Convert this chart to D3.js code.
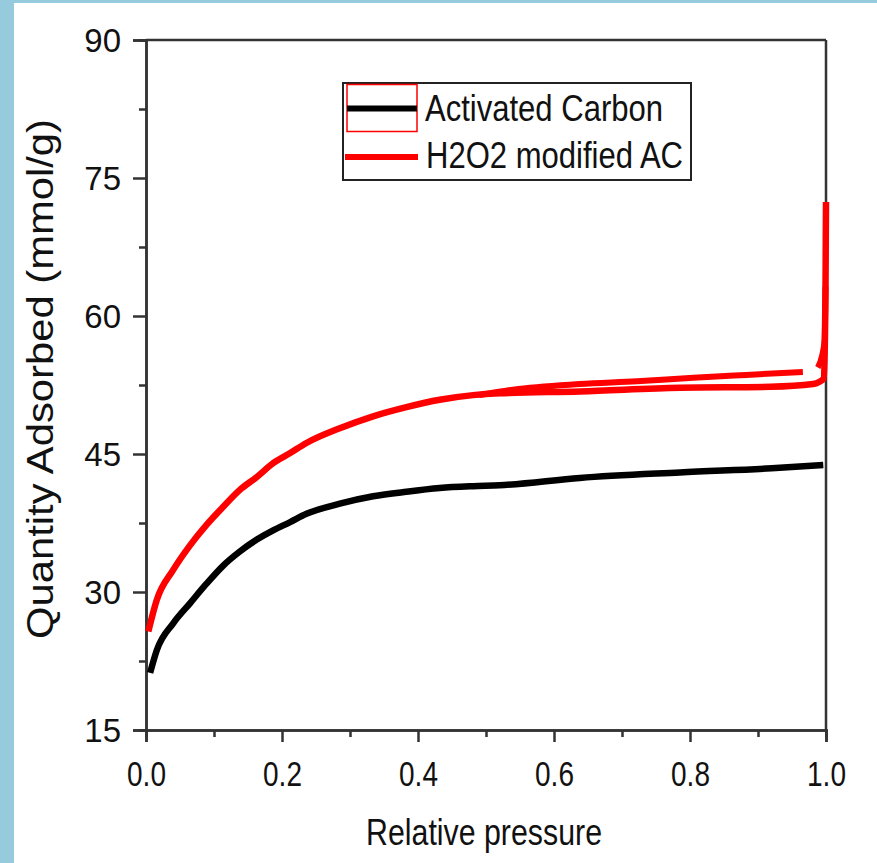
<!DOCTYPE html>
<html>
<head>
<meta charset="utf-8">
<script src="https://cdn.jsdelivr.net/npm/d3@7"></script>
<style>
  html, body { margin: 0; padding: 0; background: #ffffff; }
  svg { display: block; }
  text { font-family: "Liberation Sans", Arial, sans-serif; fill: #111; }
</style>
</head>
<body>
<svg id="chart" width="877" height="863"></svg>
<script>
// ---- data ----
const acPressure = [0.006, 0.016, 0.040, 0.065, 0.089, 0.114, 0.138, 0.163, 0.187, 0.212, 0.236, 0.285, 0.334, 0.383, 0.432, 0.481, 0.52, 0.638, 0.785, 0.932, 0.996];
const acQuantity = [21.2, 23.7, 26.6, 28.8, 30.9, 32.9, 34.4, 35.7, 36.7, 37.6, 38.5, 39.6, 40.4, 40.9, 41.3, 41.5, 41.6, 42.4, 43.0, 43.5, 43.8];

const h2AdsPressure = [0.0034, 0.0157, 0.040, 0.065, 0.089, 0.114, 0.138, 0.163, 0.187, 0.212, 0.236, 0.285, 0.334, 0.383, 0.432, 0.481, 0.52, 0.638, 0.785, 0.918, 0.981, 0.997, 0.9985, 0.9993, 1.0];
const h2AdsQuantity = [25.7, 29.1, 32.4, 35.1, 37.3, 39.3, 41.1, 42.5, 44.0, 45.1, 46.2, 47.8, 49.1, 50.1, 50.9, 51.4, 51.6, 51.8, 52.2, 52.3, 52.6, 53.2, 58.0, 63.2, 72.4];

// desorption branch (null = visible break in the trace)
const h2DesPressure = [0.9993, 0.998, 0.994, 0.988, 0.978, 0.966, 0.883, 0.805, 0.722, 0.638, 0.54, 0.49];
const h2DesQuantity = [63.2, 57.4, 55.6, 54.4, null, 53.9, 53.6, 53.3, 52.9, 52.6, 52.0, 51.4];

const xTickValues = [0, 0.2, 0.4, 0.6, 0.8, 1.0];
const xTickLabels = ["0.0", "0.2", "0.4", "0.6", "0.8", "1.0"];
const xMinorTicks = [0.1, 0.3, 0.5, 0.7, 0.9];
const yTickValues = [15, 30, 45, 60, 75, 90];
const yTickLabels = ["15", "30", "45", "60", "75", "90"];
const yMinorTicks = [22.5, 37.5, 52.5, 67.5, 82.5];

const seriesNames = ["Activated Carbon", "H2O2 modified AC"];
const seriesColors = ["#000000", "#ff0000"];

// ---- layout ----
const svg = d3.select("#chart");
const mLeft = 146, mRight = 826, mTop = 40, mBottom = 730;

// page border strips
svg.append("rect").attr("x", 0).attr("y", 0).attr("width", 14).attr("height", 863).attr("fill", "#95cbdc");
svg.append("rect").attr("x", 0).attr("y", 0).attr("width", 877).attr("height", 3).attr("fill", "#95cbdc");

const x = d3.scaleLinear().domain([0, 1]).range([mLeft, mRight]);
const y = d3.scaleLinear().domain([15, 90]).range([mBottom, mTop]);

const axisColor = "#333";

// minor ticks
const xMinor = svg.append("g").attr("transform", `translate(0,${mBottom})`)
  .call(d3.axisBottom(x).tickValues(xMinorTicks).tickSize(7).tickFormat(""));
const yMinor = svg.append("g").attr("transform", `translate(${mLeft},0)`)
  .call(d3.axisLeft(y).tickValues(yMinorTicks).tickSize(7).tickFormat(""));

// major axes
const xAxis = svg.append("g").attr("transform", `translate(0,${mBottom})`)
  .call(d3.axisBottom(x).tickValues(xTickValues).tickSize(12).tickPadding(19)
    .tickFormat((d, i) => xTickLabels[i]));
const yAxis = svg.append("g").attr("transform", `translate(${mLeft},0)`)
  .call(d3.axisLeft(y).tickValues(yTickValues).tickSize(13).tickPadding(12)
    .tickFormat((d, i) => yTickLabels[i]));

[xMinor, yMinor, xAxis, yAxis].forEach(g => {
  g.select(".domain").attr("stroke", axisColor).attr("stroke-width", 2.5);
  g.selectAll(".tick line").attr("stroke", axisColor).attr("stroke-width", 2.5);
  g.selectAll("text").attr("font-family", "Liberation Sans, Arial, sans-serif").attr("fill", "#111");
});
xAxis.selectAll("text").attr("font-size", 35).attr("dy", "0.71em")
  .attr("transform", function () { return `translate(0,${d3.select(this).attr("y")}) scale(0.8,1) translate(0,${-d3.select(this).attr("y")})`; });
yAxis.selectAll("text").attr("font-size", 33).attr("dy", "0.36em");

// frame top and right
svg.append("line").attr("x1", mLeft).attr("x2", mRight).attr("y1", mTop).attr("y2", mTop)
  .attr("stroke", axisColor).attr("stroke-width", 2.5);
svg.append("line").attr("x1", mRight).attr("x2", mRight).attr("y1", mTop).attr("y2", mBottom)
  .attr("stroke", axisColor).attr("stroke-width", 2.5);

// axis titles
svg.append("text").attr("x", 484).attr("y", 845).attr("text-anchor", "middle")
  .attr("font-size", 37).attr("textLength", 236).attr("lengthAdjust", "spacingAndGlyphs")
  .text("Relative pressure");
svg.append("text").attr("transform", "translate(53,379) rotate(-90)").attr("text-anchor", "middle")
  .attr("font-size", 36).attr("textLength", 520).attr("lengthAdjust", "spacingAndGlyphs")
  .text("Quantity Adsorbed (mmol/g)");

// data lines
const line = d3.line().defined(d => d[1] != null).curve(d3.curveMonotoneX)
  .x(d => x(d[0])).y(d => y(d[1]));
const plot = svg.append("g");
plot.append("path").datum(acPressure.map((p, i) => [p, acQuantity[i]]))
  .attr("d", line).attr("fill", "none").attr("stroke", seriesColors[0]).attr("stroke-width", 6.5)
  .attr("stroke-linejoin", "round");
plot.append("path").datum(h2AdsPressure.map((p, i) => [p, h2AdsQuantity[i]]))
  .attr("d", line).attr("fill", "none").attr("stroke", seriesColors[1]).attr("stroke-width", 6.5)
  .attr("stroke-linejoin", "round");
plot.append("path").datum(h2DesPressure.map((p, i) => [p, h2DesQuantity[i]]))
  .attr("d", line).attr("fill", "none").attr("stroke", seriesColors[1]).attr("stroke-width", 6)
  .attr("stroke-linejoin", "round");

// legend
const lg = svg.append("g");
lg.append("rect").attr("x", 343).attr("y", 83).attr("width", 348).attr("height", 97)
  .attr("fill", "none").attr("stroke", "#222").attr("stroke-width", 2);
lg.append("rect").attr("x", 347).attr("y", 84.5).attr("width", 70).attr("height", 47)
  .attr("fill", "none").attr("stroke", "#ff0000").attr("stroke-width", 1.5);
lg.append("line").attr("x1", 347).attr("x2", 417).attr("y1", 108.5).attr("y2", 108.5)
  .attr("stroke", seriesColors[0]).attr("stroke-width", 6);
lg.append("line").attr("x1", 345).attr("x2", 418).attr("y1", 157).attr("y2", 157)
  .attr("stroke", seriesColors[1]).attr("stroke-width", 6);
lg.append("text").attr("x", 425).attr("y", 121).attr("font-size", 36)
  .attr("textLength", 238).attr("lengthAdjust", "spacingAndGlyphs").text(seriesNames[0]);
lg.append("text").attr("x", 426).attr("y", 168).attr("font-size", 36)
  .attr("textLength", 257).attr("lengthAdjust", "spacingAndGlyphs").text(seriesNames[1]);
</script>
</body>
</html>
